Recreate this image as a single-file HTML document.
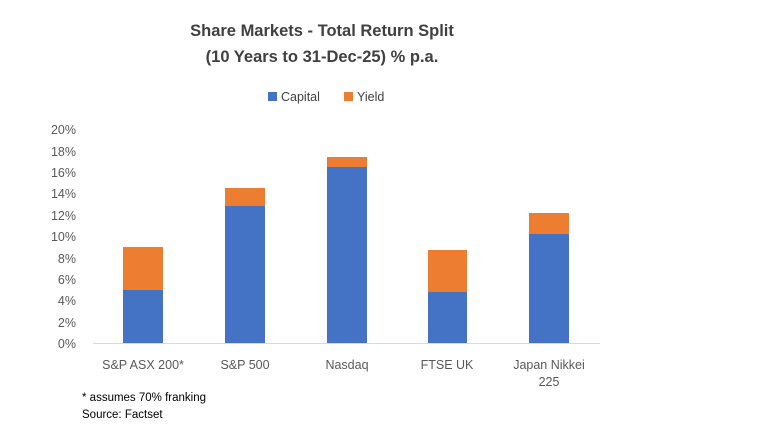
<!DOCTYPE html>
<html><head><style>
body{margin:0;background:#fff;}
svg{display:block;font-family:"Liberation Sans",sans-serif;}
</style></head><body>
<svg width="758" height="434" viewBox="0 0 758 434">
<text x="322" y="36" text-anchor="middle" font-size="16.5" font-weight="bold" fill="#404040">Share Markets - Total Return Split</text>
<text x="322" y="62" text-anchor="middle" font-size="16.5" font-weight="bold" fill="#404040">(10 Years to 31-Dec-25) % p.a.</text>
<rect x="268" y="92" width="9" height="9" fill="#4472c4"/>
<text x="281" y="101" font-size="12.5" fill="#404040">Capital</text>
<rect x="344" y="92" width="9" height="9" fill="#ed7d31"/>
<text x="357" y="101" font-size="12.5" fill="#404040">Yield</text>
<g font-size="12.5" fill="#595959" text-anchor="end">
<text x="76" y="134">20%</text><text x="76" y="156">18%</text><text x="76" y="177">16%</text>
<text x="76" y="198">14%</text><text x="76" y="220">12%</text><text x="76" y="241">10%</text>
<text x="76" y="263">8%</text><text x="76" y="284">6%</text><text x="76" y="305">4%</text>
<text x="76" y="327">2%</text><text x="76" y="348">0%</text>
</g>
<line x1="93" y1="343.5" x2="600" y2="343.5" stroke="#d9d9d9" stroke-width="1"/>
<rect x="123" y="290" width="40" height="53" fill="#4472c4"/><rect x="123" y="247" width="40" height="43" fill="#ed7d31"/>
<rect x="225" y="206" width="40" height="137" fill="#4472c4"/><rect x="225" y="188" width="40" height="18" fill="#ed7d31"/>
<rect x="327" y="167" width="40" height="176" fill="#4472c4"/><rect x="327" y="157" width="40" height="10" fill="#ed7d31"/>
<rect x="428" y="292" width="39" height="51" fill="#4472c4"/><rect x="428" y="250" width="39" height="42" fill="#ed7d31"/>
<rect x="529" y="234" width="40" height="109" fill="#4472c4"/><rect x="529" y="213" width="40" height="21" fill="#ed7d31"/>
<g font-size="12.5" fill="#595959" text-anchor="middle">
<text x="143" y="369">S&amp;P ASX 200*</text>
<text x="245" y="369">S&amp;P 500</text>
<text x="347" y="369">Nasdaq</text>
<text x="447" y="369">FTSE UK</text>
<text x="549" y="369">Japan Nikkei</text>
<text x="549" y="386">225</text>
</g>
<text x="82" y="401" font-size="11.5" fill="#000">* assumes 70% franking</text>
<text x="82" y="418" font-size="11.5" fill="#000">Source: Factset</text>
</svg>
</body></html>
